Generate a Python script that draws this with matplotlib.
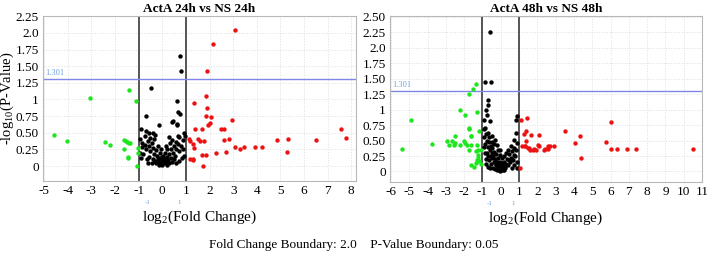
import matplotlib.pyplot as plt
import numpy as np

plt.rcParams['font.family'] = ['Liberation Serif', 'DejaVu Serif']
plt.rcParams['mathtext.fontset'] = 'custom'
plt.rcParams['mathtext.rm'] = 'Liberation Serif'
plt.rcParams['mathtext.default'] = 'rm'

# ---- ActA 24h vs NS 24h ----
green24_x = [-1.39, -1.10, -3.06, -4.60, -4.04, -2.43, -2.20, -1.60, -1.55, -1.50, -1.40, -1.35,
             -1.62, -1.45, -1.01, -1.01, -1.07, -1.46]
green24_y = [1.15, 0.97, 1.02, 0.46, 0.38, 0.36, 0.31, 0.39, 0.37, 0.36, 0.35, 0.34,
             0.25, 0.12, 0.27, 0.19, 0.00, 0.14]

red24_x = [3.06, 2.13, 1.91, 1.87, 1.90, 1.84, 2.06, 2.01, 1.94, 2.96, 1.68, 2.48, 2.62, 7.55,
           7.78, 1.78, 2.62, 2.81, 4.87, 5.33, 6.50, 3.06, 3.27, 3.46, 3.93, 4.23, 5.27, 2.29,
           2.71, 1.68, 1.87, 1.72, 1.36, 1.39, 1.12, 1.19, 1.29, 1.51, 1.58, 1.35, 1.16, 1.29, 1.32]
red24_y = [2.04, 1.83, 1.43, 1.06, 0.87, 0.75, 0.74, 0.65, 0.62, 0.69, 0.55, 0.55, 0.55, 0.55,
           0.42, 0.37, 0.39, 0.41, 0.39, 0.41, 0.39, 0.28, 0.26, 0.28, 0.29, 0.28, 0.21, 0.19,
           0.21, 0.16, 0.17, 0.00, 0.94, 0.55, 0.41, 0.38, 0.33, 0.41, 0.37, 0.27, 0.10, 0.10, 0.09]

black24 = [(0.77, 1.66), (0.78, 1.43), (-0.49, 1.18), (0.62, 0.98), (0.68, 0.81), (0.77, 0.78),
           (-0.70, 0.75), (-0.13, 0.62), (0.46, 0.68), (0.41, 0.66), (0.61, 0.63), (0.62, 0.61),
           (-0.91, 0.55), (-0.67, 0.52), (-0.55, 0.50), (-0.39, 0.49), (-0.30, 0.47), (0.28, 0.43),
           (0.42, 0.39), (0.57, 0.36), (0.71, 0.43), (0.86, 0.39), (0.95, 0.45), (-0.95, 0.40),
           (-0.85, 0.35), (-0.88, 0.28), (-0.75, 0.32), (-0.62, 0.38), (-0.70, 0.25), (-0.58, 0.30),
           (-0.45, 0.35), (-0.50, 0.22), (-0.40, 0.27), (-0.35, 0.18), (-0.28, 0.24), (-0.22, 0.15),
           (-0.18, 0.10), (-0.12, 0.06), (-0.08, 0.12), (-0.05, 0.03), (0.00, 0.02), (0.04, 0.08),
           (0.08, 0.04), (0.12, 0.10), (0.15, 0.06), (0.20, 0.14), (0.25, 0.09), (0.30, 0.18),
           (0.35, 0.12), (0.38, 0.25), (0.45, 0.20), (0.50, 0.30), (0.55, 0.15), (0.60, 0.26),
           (0.66, 0.33), (0.72, 0.22), (0.80, 0.30), (0.88, 0.25), (0.92, 0.15), (0.82, 0.12),
           (0.70, 0.08), (0.60, 0.05), (-0.30, 0.08), (-0.25, 0.04), (-0.15, 0.02), (0.05, 0.15),
           (-0.02, 0.09), (0.18, 0.02), (0.28, 0.05), (-0.40, 0.10), (-0.55, 0.14), (-0.65, 0.10),
           (-0.80, 0.18), (-0.90, 0.12), (-0.60, 0.05), (0.10, 0.20), (-0.10, 0.20), (0.00, 0.13),
           (0.22, 0.25), (-0.20, 0.30), (0.40, 0.06), (0.48, 0.10), (-0.45, 0.05), (-0.75, 0.45),
           (-0.52, 0.42), (0.32, 0.35), (0.15, 0.30), (-0.05, 0.25), (0.93, 0.50), (-0.93, 0.20),
           (-0.35, 0.40), (0.65, 0.45)]

# ---- ActA 48h vs NS 48h ----
green48_x = [-1.37, -1.50, -1.74, -2.20, -1.96, -1.28, -4.89, -1.74, -5.40, -3.74, -2.94, -2.85,
             -2.67, -2.52, -2.57, -2.48, -2.20, -2.02, -1.93, -1.83, -1.65, -1.74, -1.28, -1.22,
             -1.33, -1.65, -1.37, -1.28, -1.18, -1.18, -1.72, -1.22, -1.60, -1.60, -1.07, -1.26,
             -1.07, -1.45]
green48_y = [1.42, 1.34, 1.25, 0.99, 0.92, 0.96, 0.83, 0.70, 0.37, 0.44, 0.49, 0.43,
             0.50, 0.46, 0.43, 0.57, 0.43, 0.50, 0.46, 0.43, 0.57, 0.35, 0.43, 0.34,
             0.33, 0.11, 0.14, 0.19, 0.17, 0.65, 0.69, 0.22, 0.58, 0.43, 0.35, 0.27,
             0.12, 0.08]

red48_x = [6.00, 3.54, 4.33, 4.06, 5.76, 2.11, 2.11, 2.57, 2.89, 2.39, 2.61, 4.39, 6.00, 6.33,
           6.89, 7.39, 10.50, 1.40, 1.26, 1.40, 1.32, 1.50, 1.59, 1.78, 1.93, 2.06, 1.07, 1.09,
           1.46, 1.65, 1.18, 1.33, 1.56, 1.83, 2.44, 2.67]
red48_y = [0.80, 0.66, 0.57, 0.46, 0.48, 0.59, 0.42, 0.42, 0.42, 0.35, 0.36, 0.22, 0.36, 0.36,
           0.36, 0.36, 0.36, 0.65, 0.60, 0.49, 0.42, 0.38, 0.35, 0.35, 0.35, 0.43, 0.06, 0.83,
           0.87, 0.59, 0.41, 0.41, 0.38, 0.36, 0.36, 0.41]

black48 = [(-0.56, 2.26), (-0.85, 1.44), (-0.52, 1.44), (-0.70, 1.15), (-0.72, 1.07), (-0.79, 0.99),
           (-0.76, 0.91), (-0.91, 0.84), (-0.57, 0.82), (0.91, 0.90), (0.85, 0.83), (-0.94, 0.68),
           (-0.67, 0.62), (-0.48, 0.57), (-0.30, 0.51), (-0.20, 0.43), (-0.02, 0.35), (0.17, 0.25),
           (0.44, 0.19), (0.72, 0.27), (0.81, 0.62), (0.72, 0.51), (0.54, 0.41), (0.91, 0.46),
           (-0.90, 0.55), (-0.85, 0.45), (-0.80, 0.60), (-0.75, 0.50), (-0.70, 0.40), (-0.65, 0.48),
           (-0.60, 0.35), (-0.55, 0.42), (-0.50, 0.30), (-0.45, 0.38), (-0.40, 0.25), (-0.35, 0.32),
           (-0.30, 0.20), (-0.25, 0.28), (-0.20, 0.15), (-0.15, 0.22), (-0.10, 0.10), (-0.05, 0.16),
           (0.00, 0.05), (0.05, 0.12), (0.10, 0.03), (0.15, 0.08), (0.20, 0.15), (0.25, 0.06),
           (0.30, 0.12), (0.35, 0.20), (0.40, 0.10), (0.45, 0.28), (0.50, 0.15), (0.55, 0.22),
           (0.60, 0.33), (0.65, 0.18), (0.70, 0.38), (0.75, 0.10), (0.80, 0.25), (0.85, 0.35),
           (0.88, 0.15), (-0.88, 0.30), (-0.82, 0.20), (-0.78, 0.12), (-0.72, 0.25), (-0.68, 0.08),
           (-0.62, 0.18), (-0.58, 0.05), (-0.52, 0.12), (-0.48, 0.22), (-0.42, 0.06), (-0.38, 0.15),
           (-0.32, 0.04), (-0.28, 0.10), (-0.22, 0.03), (-0.18, 0.07), (-0.12, 0.02), (-0.08, 0.05),
           (-0.02, 0.01), (0.02, 0.02), (0.08, 0.07), (0.12, 0.14), (0.18, 0.02), (0.22, 0.09),
           (-0.45, 0.48), (-0.62, 0.55), (-0.85, 0.70), (-0.92, 0.40), (-0.35, 0.45), (0.28, 0.30),
           (0.38, 0.35), (0.62, 0.05), (-0.15, 0.35), (-0.05, 0.27), (0.05, 0.22), (-0.75, 0.30),
           (-0.55, 0.25), (-0.25, 0.12), (0.90, 0.05)]

titles = ['ActA 24h vs NS 24h', 'ActA 48h vs NS 48h']
xticks = [np.arange(-5, 9), np.arange(-6, 12)]
yticklabels = [['0', '0.25', '0.50', '0.75', '1', '1.25', '1.50', '1.75', '2.0', '2.25'],
               ['0', '0.25', '0.50', '0.75', '1', '1.25', '1.50', '1.75', '2.0', '2.25', '2.50']]
p_line = 1.301

fig = plt.figure(figsize=(7.08, 2.61), dpi=100)
ax1 = fig.add_axes([43 / 708, 80 / 261, 313 / 708, 165 / 261])
ax2 = fig.add_axes([390 / 708, 79 / 261, 312 / 708, 166 / 261])

panels = [(ax1, green24_x, green24_y, red24_x, red24_y, black24, (-5.05, 8.2), (-0.225, 2.255)),
          (ax2, green48_x, green48_y, red48_x, red48_y, black48, (-6.05, 11.0), (-0.17, 2.515))]

for i, (ax, gx, gy, rx, ry, blk, xl, yl) in enumerate(panels):
    bx = [p[0] for p in blk]
    by = [p[1] for p in blk]
    ax.scatter(bx, by, s=10, color='black', linewidths=0, zorder=3)
    ax.scatter(gx, gy, s=10, color='#1ee61e', linewidths=0, zorder=3)
    ax.scatter(rx, ry, s=10, color='#ee1111', linewidths=0, zorder=3)

    ax.axvline(-1, color='#555555', lw=1.4, zorder=2)
    ax.axvline(1, color='#555555', lw=1.4, zorder=2)
    ax.axhline(p_line, color='#7f86e6', lw=1.0, zorder=2)
    ax.text(xl[0] + 0.1, p_line + 0.03, '1.301', color='#6fa0dc', fontsize=6, va='bottom')

    ax.set_xlim(*xl)
    ax.set_ylim(*yl)
    ax.set_xticks(xticks[i])
    ax.set_xticklabels([str(v) for v in xticks[i]])
    ax.set_yticks(np.arange(len(yticklabels[i])) * 0.25)
    ax.set_yticklabels(yticklabels[i])
    ax.tick_params(length=0, labelsize=9.5, pad=3)
    ax.grid(True, color='#dedede', lw=0.7, ls=':')
    ax.set_axisbelow(True)
    for sp in ax.spines.values():
        sp.set_color('#b8b8b8')
        sp.set_linewidth(0.8)

    ax.set_title(titles[i], fontsize=9.5, fontweight='bold', pad=3)
    ax.set_xlabel('log$_2$(Fold Change)', fontsize=11, labelpad=8)

    # small blue boundary marks under the axis
    tr = ax.get_xaxis_transform()
    ax.text(-0.6, -0.13, '-1', transform=tr, color='#6fa0dc', fontsize=5, ha='center', va='center')
    ax.text(0.7, -0.13, '1', transform=tr, color='#6fa0dc', fontsize=5, ha='center', va='center')

ax1.set_ylabel('-log$_{10}$(P-Value)', fontsize=10.5)
ax1.yaxis.set_label_coords(-0.085, 0.5)

fig.text(0.5, 0.06, 'Fold Change Boundary: 2.0    P-Value Boundary: 0.05',
         ha='center', va='center', fontsize=9.5)

plt.savefig('out.png', dpi=100)
